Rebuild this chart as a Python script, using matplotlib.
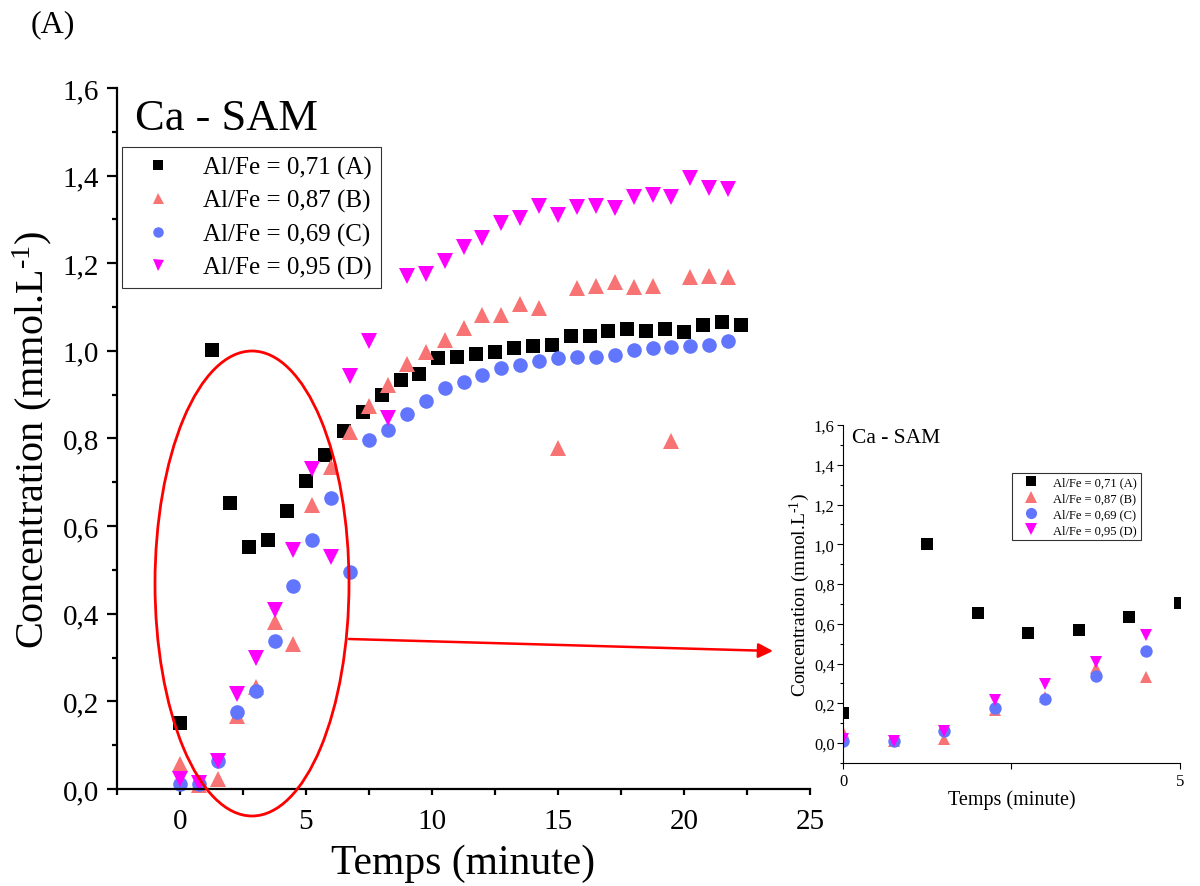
import numpy as np
import matplotlib.pyplot as plt
from matplotlib.patches import Ellipse, FancyArrowPatch
from matplotlib.ticker import MultipleLocator, FuncFormatter

plt.rcParams['font.family'] = ['Liberation Serif', 'DejaVu Serif']
plt.rcParams['mathtext.default'] = 'regular'

# Temps (minute)
t_A = [0, 1.25, 2.0, 2.75, 3.5, 4.25, 5.0, 5.75, 6.5, 7.25, 8.0, 8.75, 9.5, 10.25,
       11.0, 11.75, 12.5, 13.25, 14.0, 14.75, 15.5, 16.25, 17.0, 17.75, 18.5, 19.25,
       20.0, 20.75, 21.5, 22.25]
t_BCD = [0, 0.75, 1.5, 2.25, 3.0, 3.75, 4.5, 5.25, 6.0, 6.75, 7.5, 8.25, 9.0, 9.75,
         10.5, 11.25, 12.0, 12.75, 13.5, 14.25, 15.0, 15.75, 16.5, 17.25, 18.0, 18.75,
         19.5, 20.25, 21.0, 21.75]

# Concentration (mmol/L)
c_A = [0.15, 1.002, 0.653, 0.553, 0.568, 0.635, 0.703, 0.763, 0.818, 0.86, 0.9, 0.933,
       0.948, 0.984, 0.986, 0.992, 0.998, 1.006, 1.012, 1.014, 1.033, 1.034, 1.045,
       1.049, 1.045, 1.049, 1.043, 1.058, 1.065, 1.059]
c_B = [0.058, 0.01, 0.022, 0.167, 0.232, 0.38, 0.33, 0.647, 0.735, 0.815, 0.875, 0.923,
       0.97, 0.997, 1.025, 1.052, 1.082, 1.081, 1.107, 1.098, 0.778, 1.143, 1.149,
       1.156, 1.145, 1.148, 0.795, 1.169, 1.17, 1.168]
c_C = [0.011, 0.011, 0.063, 0.175, 0.223, 0.338, 0.463, 0.568, 0.664, 0.496, 0.797,
       0.819, 0.856, 0.886, 0.915, 0.928, 0.945, 0.961, 0.968, 0.976, 0.983, 0.987,
       0.985, 0.991, 1.003, 1.007, 1.009, 1.011, 1.013, 1.023]
c_D = [0.022, 0.013, 0.063, 0.217, 0.299, 0.408, 0.545, 0.73, 0.53, 0.943, 1.023, 0.846,
       1.17, 1.176, 1.204, 1.237, 1.257, 1.292, 1.303, 1.33, 1.309, 1.328, 1.33, 1.326,
       1.352, 1.356, 1.352, 1.394, 1.371, 1.37]

labels = ['Al/Fe = 0,71 (A)', 'Al/Fe = 0,87 (B)', 'Al/Fe = 0,69 (C)', 'Al/Fe = 0,95 (D)']
series = [(t_A, c_A, 's', 'black', 9.5),
          (t_BCD, c_B, '^', '#F87474', 11),
          (t_BCD, c_C, 'o', '#6176FD', 10.5),
          (t_BCD, c_D, 'v', '#FF00FF', 11)]

ylab = 'Concentration (mmol.L$^{\u2010 1}$)'
comma = FuncFormatter(lambda v, p: f'{v:.1f}'.replace('.', ','))


def style_axes(ax, lw, size, major, minor):
    for s in ['top', 'right']:
        ax.spines[s].set_visible(False)
    for s in ['left', 'bottom']:
        ax.spines[s].set_linewidth(lw)
    ax.tick_params(which='both', direction='out', width=lw, labelsize=size)
    ax.tick_params(axis='y', which='major', length=major)
    ax.tick_params(axis='y', which='minor', length=minor)
    ax.yaxis.set_major_locator(MultipleLocator(0.2))
    ax.yaxis.set_minor_locator(MultipleLocator(0.1))
    ax.yaxis.set_major_formatter(comma)


fig = plt.figure(figsize=(12, 8.87), dpi=100)

# graphe principal
ax = fig.add_axes([0.0975, 0.1094, 0.5775, 0.7903])
for (t, c, m, col, ms), lab in zip(series, labels):
    ax.plot(t, c, m, color=col, markersize=ms, markeredgewidth=0, label=lab, clip_on=False)
ax.set_xlim(-2.5, 25)
ax.set_ylim(0, 1.6)
style_axes(ax, 1.6, 21, 7, 3.6)
ax.tick_params(axis='y', pad=6)
ax.xaxis.set_major_locator(MultipleLocator(5))
ax.xaxis.set_minor_locator(MultipleLocator(2.5))
ax.tick_params(axis='x', which='both', length=4.5, pad=9)
ax.set_xlabel('Temps (minute)', fontsize=30, labelpad=7)
ax.set_ylabel(ylab, fontsize=29, labelpad=6)
ax.text(0.026, 0.985, 'Ca - SAM', transform=ax.transAxes, fontsize=32, va='top', ha='left')
leg = ax.legend(loc='upper left', bbox_to_anchor=(0.007, 0.916), borderaxespad=0,
                fontsize=18, frameon=True, fancybox=False, edgecolor='black',
                handletextpad=0.7, borderpad=0.35, labelspacing=0.42, handlelength=2.2,
                markerscale=0.72)
leg.get_frame().set_linewidth(0.8)

# zoom
axi = fig.add_axes([0.7025, 0.1387, 0.2808, 0.381])
for (t, c, m, col, ms), lab in zip(series, labels):
    axi.plot(t, c, m, color=col, markersize=ms * 0.85, markeredgewidth=0, label=lab)
axi.set_xlim(0, 5)
axi.set_ylim(-0.1, 1.6)
style_axes(axi, 0.8, 12, 4, 2.5)
axi.tick_params(axis='y', pad=2)
axi.set_xticks([0, 5])
axi.xaxis.set_minor_locator(MultipleLocator(2.5))
axi.tick_params(axis='x', which='both', length=4)
axi.set_xlabel('Temps (minute)', fontsize=14.5, labelpad=0)
axi.set_ylabel(ylab, fontsize=14, labelpad=1)
axi.text(0.027, 0.99, 'Ca - SAM', transform=axi.transAxes, fontsize=15.5, va='top', ha='left')
legi = axi.legend(loc='upper right', bbox_to_anchor=(0.884, 0.858), borderaxespad=0,
                  fontsize=9, frameon=True, fancybox=False, edgecolor='black',
                  handletextpad=0.6, borderpad=0.3, labelspacing=0.3, handlelength=2.4,
                  markerscale=0.9)
legi.get_frame().set_linewidth(0.8)

# ellipse + fleche
W, H = 1200, 887
ell = Ellipse((252 / W, 1 - 584.5 / H), 194 / W, 465 / H, transform=fig.transFigure,
              fill=False, edgecolor='red', linewidth=2)
fig.add_artist(ell)
arr = FancyArrowPatch((349 / W, 1 - 640 / H), (773 / W, 1 - 652 / H),
                      transform=fig.transFigure, arrowstyle='-|>', mutation_scale=22,
                      color='red', linewidth=1.8, shrinkA=0, shrinkB=0)
fig.add_artist(arr)

fig.text(53 / W, 1 - 25 / H, '(A)', fontsize=23, ha='center', va='center')

fig.savefig('out.png', dpi=100)
